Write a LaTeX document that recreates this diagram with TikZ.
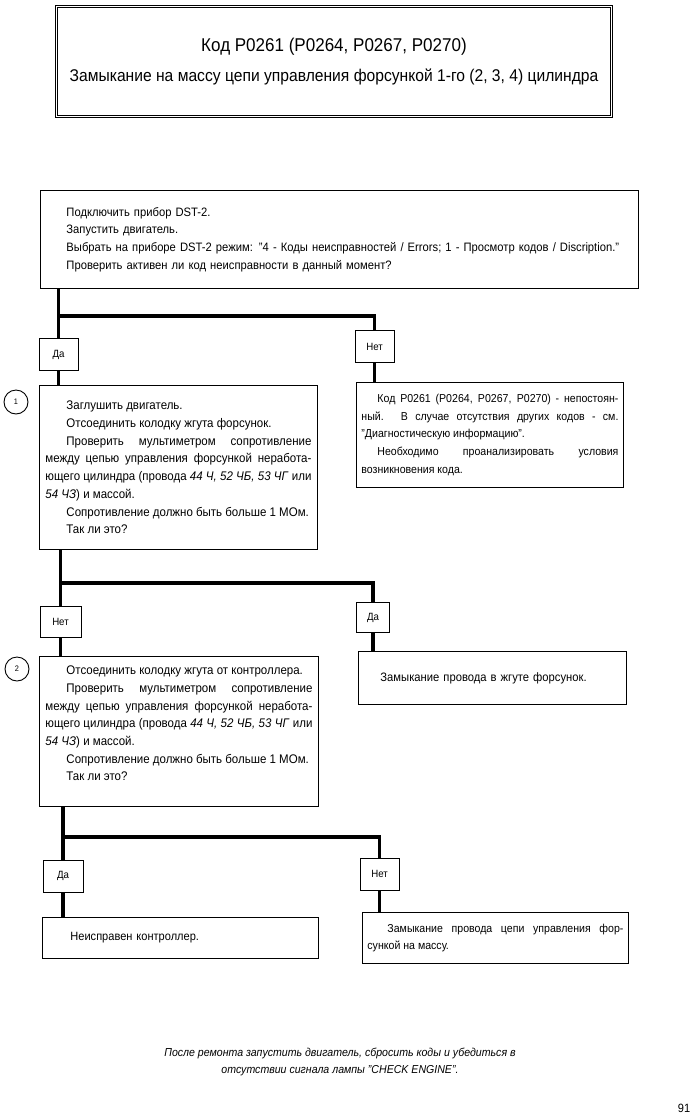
\documentclass[tikz,border=0pt]{standalone}
\usepackage{fontspec}
\setmainfont{Liberation Sans}[FakeStretch=0.92]
\begin{document}
\begin{tikzpicture}[x=1pt,y=-1pt,
  txtbox/.style={draw, line width=0.9pt, anchor=north west, inner ysep=0pt,
    font=\fontsize{12.5}{17.7}\selectfont},
  ans/.style={draw, line width=0.9pt, inner sep=0pt, minimum width=39pt,
    minimum height=32pt, font=\fontsize{10.5}{12}\selectfont},
  trunk/.style={line width=3.2pt},
  num/.style={circle, draw, line width=0.9pt, minimum size=24pt, inner sep=0pt,
    font=\fontsize{8}{8}\selectfont}]
\useasboundingbox (0,0) rectangle (697,1120);
\fill[white] (0,0) rectangle (697,1120);

% title
\node[draw, line width=1pt, anchor=north west,
  minimum width=557pt, minimum height=112pt, inner sep=0pt, align=center] (title) at (55,5)
  {{\fontsize{18.5}{22}\selectfont Код P0261 (P0264, P0267, P0270)}\\[12pt]
   {\fontsize{17}{20}\selectfont Замыкание на массу цепи управления форсункой 1-го (2, 3, 4) цилиндра}};
\draw[line width=0.6pt] ([shift={(2.5,2.5)}]title.north west) rectangle ([shift={(-2.5,-2.5)}]title.south east);

% first box
\node[txtbox, minimum width=598pt, minimum height=98pt, inner xsep=6.5pt, text width=585pt,
  align=left, font=\fontsize{12.2}{17.7}\selectfont] (s0) at (40,190)
  {\hspace*{19.5pt}Подключить прибор DST-2.\\
   \hspace*{19.5pt}Запустить двигатель.\\
   \hspace*{19.5pt}Выбрать на приборе DST-2 режим: "4 - Коды неисправностей / Errors; 1 - Просмотр кодов / Discription."\\
   \hspace*{19.5pt}Проверить активен ли код неисправности в данный момент?};

% answers, level 1
\node[ans] (da1) at (58.5,354.5) {Да};
\node[ans] (net1) at (374.5,346.5) {Нет};
\coordinate (j1) at (58.5,316);

% box 1
\node[txtbox, minimum width=278pt, minimum height=164pt, inner xsep=6pt, text width=266pt,
  align=justify] (b1) at (39,385)
  {\hspace*{21pt}Заглушить двигатель.\\
   \hspace*{21pt}Отсоединить колодку жгута форсунок.\\
   \hspace*{21pt}Проверить мультиметром сопротивление\linebreak
   между цепью управления форсункой неработа-\linebreak
   ющего цилиндра (провода \textit{44 Ч, 52 ЧБ, 53 ЧГ} или\linebreak
   \textit{54 ЧЗ}) и массой.\\
   \hspace*{21pt}Сопротивление должно быть больше 1 МОм.\\
   \hspace*{21pt}Так ли это?};
\node[num] (c1) at (16,402) {1};

% right box 1
\node[txtbox, minimum width=267pt, minimum height=105pt, inner xsep=5pt, text width=257pt,
  align=justify, font=\fontsize{11.5}{17.7}\selectfont] (r1) at (356,382)
  {\hspace*{16pt}Код P0261 (P0264, P0267, P0270) - непостоян-\linebreak
   ный. В случае отсутствия других кодов - см.\linebreak
   "Диагностическую информацию".\\
   \hspace*{16pt}Необходимо проанализировать условия\linebreak
   возникновения кода.};

% answers, level 2
\node[ans, minimum width=41pt, minimum height=31pt] (net2) at (60.5,621.5) {Нет};
\node[ans, minimum width=33pt, minimum height=30pt] (da2) at (373,617.5) {Да};
\coordinate (j2) at (60.5,583);

% box 2
\node[txtbox, minimum width=279pt, minimum height=150pt, inner xsep=6pt, text width=267pt,
  align=justify] (b2) at (39,656)
  {\hspace*{21pt}Отсоединить колодку жгута от контроллера.\\
   \hspace*{21pt}Проверить мультиметром сопротивление\linebreak
   между цепью управления форсункой неработа-\linebreak
   ющего цилиндра (провода \textit{44 Ч, 52 ЧБ, 53 ЧГ} или\linebreak
   \textit{54 ЧЗ}) и массой.\\
   \hspace*{21pt}Сопротивление должно быть больше 1 МОм.\\
   \hspace*{21pt}Так ли это?\par\kern16pt};
\node[num] (c2) at (17,669) {2};

% right box 2
\node[txtbox, minimum width=268pt, minimum height=53pt, inner xsep=6pt, text width=256pt,
  align=left, font=\fontsize{12.2}{17.7}\selectfont] (r2) at (358,651)
  {\hspace*{16pt}Замыкание провода в жгуте форсунок.};

% answers, level 3
\node[ans, minimum width=40pt] (da3) at (63,876) {Да};
\node[ans] (net3) at (379.5,874) {Нет};
\coordinate (j3) at (63,837);

% final boxes
\node[txtbox, minimum width=276pt, minimum height=41pt, inner xsep=6pt, text width=264pt,
  align=left, font=\fontsize{12}{17.7}\selectfont] (b3) at (42,917)
  {\hspace*{22pt}Неисправен контроллер.};
\node[txtbox, minimum width=266pt, minimum height=51pt, inner xsep=5pt, text width=256pt,
  align=justify, font=\fontsize{11.5}{17.7}\selectfont] (r3) at (362,912)
  {\hspace*{20pt}Замыкание провода цепи управления фор-\linebreak
   сункой на массу.};

% connectors
\draw[trunk] (da1 |- s0.south) -- (da1.north);
\draw[trunk] (j1) -| (net1.north);
\draw[trunk] (da1.south) -- (da1 |- b1.north);
\draw[trunk] (net1.south) -- (net1 |- r1.north);

\draw[trunk] (net2 |- b1.south) -- (net2.north);
\draw[trunk] (j2) -| (da2.north);
\draw[trunk] (net2.south) -- (net2 |- b2.north);
\draw[trunk] (da2.south) -- (da2 |- r2.north);

\draw[trunk] (da3 |- b2.south) -- (da3.north);
\draw[trunk] (j3) -| (net3.north);
\draw[trunk] (da3.south) -- (da3 |- b3.north);
\draw[trunk] (net3.south) -- (net3 |- r3.north);

% footer
\node[align=center, font=\itshape\fontsize{11.5}{17}\selectfont] (foot) at (340,1062)
  {После ремонта запустить двигатель, сбросить коды и убедиться в\\
   отсутствии сигнала лампы "CHECK ENGINE".};
\node[font=\fontsize{12}{14}\selectfont] (pg) at (684,1108) {91};
\end{tikzpicture}
\end{document}
